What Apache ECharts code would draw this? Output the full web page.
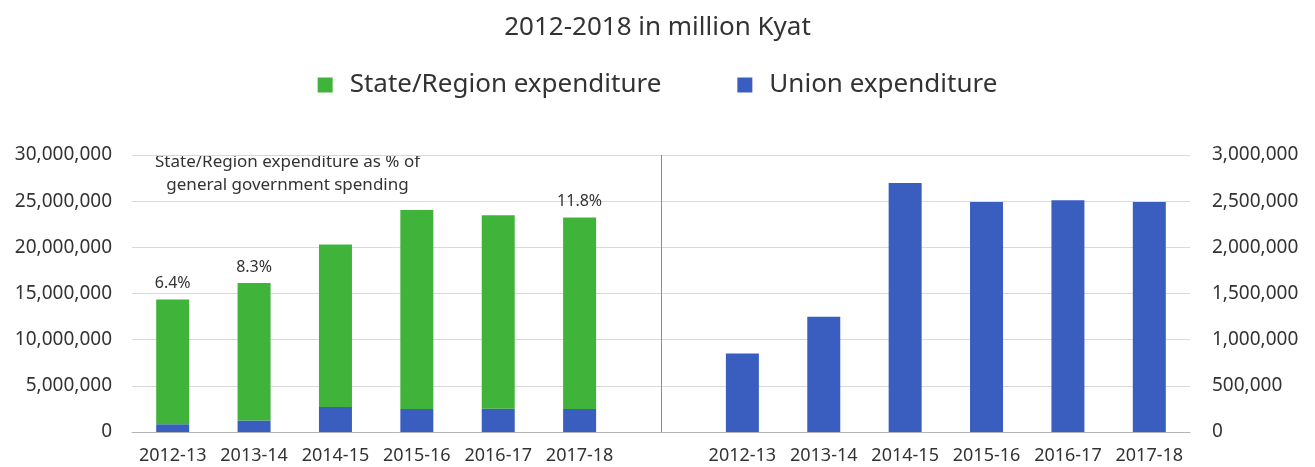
<!DOCTYPE html>
<html>
<head>
<meta charset="utf-8">
<script src="https://cdn.jsdelivr.net/npm/echarts@6/dist/echarts.min.js"></script>
<style>
	html, body { margin: 0; padding: 0; background: #fff; }
	#id_chart { width: 1315px; height: 467px; }
</style>
</head>
<body>
<div id="id_chart"></div>
<script>
// data
var years = ["2012-13", "2013-14", "2014-15", "2015-16", "2016-17", "2017-18"];
// union expenditure (million Kyat), drawn in both panels
var unionExp = [850000, 1247000, 2697000, 2492000, 2510000, 2490000];
// state/region part stacked above union in the left panel
var stateExp = [13490000, 14890000, 17610000, 21540000, 20970000, 20740000];
// share labels above the left bars
var shareLabels = ["6.4%", "8.3%", "", "", "", "11.8%"];

var chart = echarts.init(document.getElementById("id_chart"), null, { renderer: "canvas" });

var colors = ["#40b33a", "#3a5ec0"];
var fontFamily = "'Noto Sans', sans-serif";

// one category axis: 6 left, a gap slot for the divider, 6 right
var blanks = years.map(function () { return "-"; });
var categories = years.concat([""], years);
var leftUnion = unionExp.concat(["-"], blanks);
var leftState = stateExp.concat(["-"], blanks);
var rightUnion = blanks.concat(["-"], unionExp);

function fmt(v) {
	return v.toLocaleString("en-US");
}

var option = {
	animation: false,
	color: colors,
	textStyle: { fontFamily: fontFamily },
	title: {
		text: "2012-2018 in million Kyat",
		left: "center",
		top: 10,
		textStyle: { fontSize: 26, fontWeight: "normal", color: "#333", fontFamily: fontFamily }
	},
	legend: {
		top: 67,
		left: "center",
		icon: "rect",
		itemWidth: 15,
		itemHeight: 15,
		itemGap: 76,
		data: ["State/Region expenditure", "Union expenditure"],
		textStyle: { fontSize: 26, color: "#333", padding: [0, 0, 0, 12], fontFamily: fontFamily }
	},
	grid: {
		left: 132,
		right: 125,
		top: 155,
		bottom: 35
	},
	graphic: [
		{
			type: "text",
			left: 155,
			top: 151,
			style: {
				text: "State/Region expenditure as % of\ngeneral government spending",
				textAlign: "center",
				fontSize: 17,
				lineHeight: 23,
				fill: "#333",
				fontFamily: fontFamily
			}
		}
	],
	xAxis: {
		type: "category",
		data: categories,
		axisTick: { show: false },
		axisLine: { lineStyle: { color: "#b5b5b5" } },
		axisLabel: {
			interval: 0,
			margin: 15,
			fontSize: 18,
			color: "#333",
			fontFamily: fontFamily
		}
	},
	yAxis: [
		{
			type: "value",
			min: 0,
			max: 30000000,
			interval: 5000000,
			axisLine: { show: false },
			axisTick: { show: false },
			splitLine: { lineStyle: { color: "#d9d9d9" } },
			axisLabel: { margin: 20, fontSize: 19, color: "#333", formatter: fmt, fontFamily: fontFamily }
		},
		{
			type: "value",
			min: 0,
			max: 3000000,
			interval: 500000,
			position: "right",
			axisLine: { show: false },
			axisTick: { show: false },
			splitLine: { show: false },
			axisLabel: { margin: 22, fontSize: 19, color: "#333", formatter: fmt, fontFamily: fontFamily }
		}
	],
	series: [
		{
			name: "Union expenditure",
			type: "bar",
			stack: "left",
			yAxisIndex: 0,
			barWidth: 33,
			barGap: "-100%",
			itemStyle: { color: colors[1] },
			data: leftUnion
		},
		{
			name: "State/Region expenditure",
			type: "bar",
			stack: "left",
			yAxisIndex: 0,
			barWidth: 33,
			barGap: "-100%",
			itemStyle: { color: colors[0] },
			label: {
				show: true,
				position: "top",
				distance: 8,
				fontSize: 16,
				color: "#333",
				fontFamily: fontFamily,
				formatter: function (p) {
					return shareLabels[p.dataIndex] || "";
				}
			},
			data: leftState
		},
		{
			name: "Union expenditure",
			type: "bar",
			yAxisIndex: 1,
			barWidth: 33,
			barGap: "-100%",
			itemStyle: { color: colors[1] },
			data: rightUnion,
			markLine: {
				silent: true,
				symbol: "none",
				label: { show: false },
				lineStyle: { color: "#8c8c8c", type: "solid", width: 1 },
				data: [{ xAxis: 6 }]
			}
		}
	]
};
chart.setOption(option);
</script>
</body>
</html>
